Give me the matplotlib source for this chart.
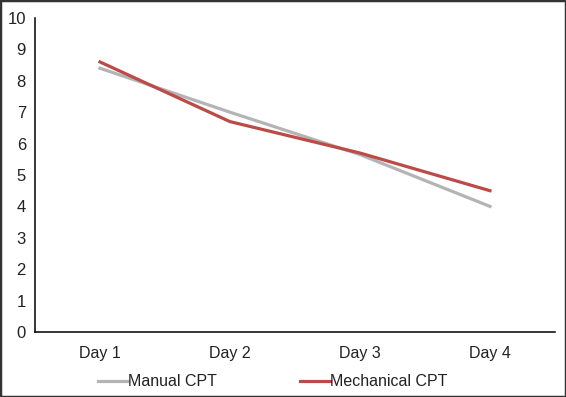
import matplotlib
matplotlib.use("Agg")
import matplotlib.pyplot as plt
from matplotlib.patches import Rectangle
import numpy as np

plt.rcParams["font.family"] = ["Liberation Sans", "DejaVu Sans"]

days = ["Day 1", "Day 2", "Day 3", "Day 4"]
manual_cpt = [8.4, 7.0, 5.65, 4.0]
mechanical_cpt = [8.6, 6.7, 5.7, 4.5]

fig = plt.figure(figsize=(5.66, 3.97), dpi=100)
ax = fig.add_axes([0.0618, 0.1637, 0.9187, 0.791])
x = np.arange(len(days))

ax.plot(x, manual_cpt, color="#b4b4b4", lw=2.3, label="Manual CPT")
ax.plot(x, mechanical_cpt, color="#bc4a47", lw=2.3, label="Mechanical CPT")

ax.set_xlim(-0.5, len(days) - 0.5)
ax.set_xticks(x)
ax.set_xticklabels(days)
ax.set_ylim(0, 10)
ax.set_yticks(range(0, 11))
ax.tick_params(length=0, colors="#222222")
ax.tick_params(axis="y", pad=6.5, labelsize=12)
ax.tick_params(axis="x", pad=10, labelsize=11.5)
for s in ["top", "right"]:
    ax.spines[s].set_visible(False)
for s in ["left", "bottom"]:
    ax.spines[s].set_linewidth(1.1)
    ax.spines[s].set_color("black")

fig.legend(loc="center", bbox_to_anchor=(0.481, 0.038), ncol=2, frameon=False,
           fontsize=11.5, handlelength=1.88, handletextpad=0.0, columnspacing=5.2,
           labelcolor="#222222")

fig.patches.append(Rectangle((0, 0), 1, 1, transform=fig.transFigure, fill=False,
                             edgecolor="#333333", lw=2.5))

fig.savefig("out.png", dpi=100)
